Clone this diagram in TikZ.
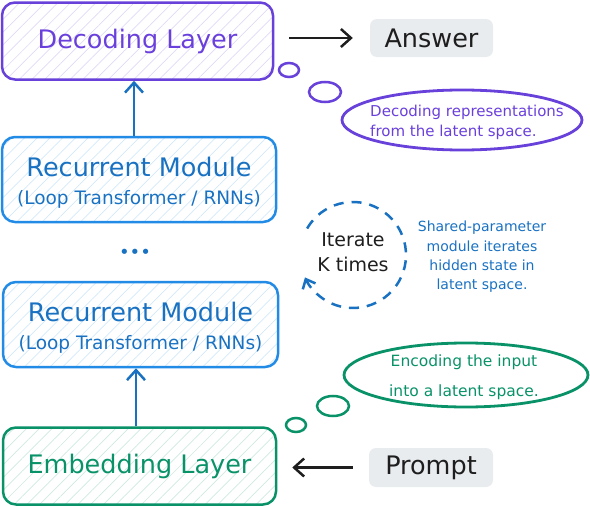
\documentclass[tikz,border=0pt]{standalone}
\usepackage{fontspec}
\setmainfont{DejaVu Sans}
\usetikzlibrary{arrows.meta,shapes.geometric,patterns.meta}

\definecolor{cviolet}{HTML}{6741D9}
\definecolor{cvtext}{HTML}{6A40DC}
\definecolor{cblue}{HTML}{1971C2}
\definecolor{cbluebox}{HTML}{228BE6}
\definecolor{cgreen}{HTML}{099268}
\definecolor{cblack}{HTML}{1E1E1E}
\definecolor{cgray}{HTML}{E9ECEF}

\tikzset{
  layerbox/.style={draw=#1, line width=2.5pt, rounded corners=13pt, inner sep=0pt, align=center,
    preaction={pattern={Lines[angle=45,distance=9pt,line width=0.7pt]}, pattern color=#1!20}},
  bigfont/.style={font=\fontsize{25.5}{28}\selectfont},
  tagbox/.style={fill=cgray, rounded corners=7pt, inner sep=0pt, text=cblack, bigfont},
  flow/.style={line width=2.5pt, -{Straight Barb[length=10pt,width=18pt]}},
  bubble/.style={draw=#1, ellipse, line width=2.5pt, inner sep=0pt},
  note/.style={font=\fontsize{15}{20}\selectfont, inner sep=0pt},
}

\begin{document}
\begin{tikzpicture}[x=1pt,y=-1pt]
\path[use as bounding box] (0,0) rectangle (590,506);

% main column
\node[layerbox=cviolet, text=cvtext, bigfont, minimum width=271pt, minimum height=77pt] (dec) at (137.5,41) {Decoding Layer};
\node[layerbox=cbluebox, text=cblue, bigfont, minimum width=274pt, minimum height=85pt] (rm1) at (139,179.5)
  {\rule{0pt}{26pt}Recurrent Module\\{\fontsize{18.5}{22}\selectfont (Loop Transformer / RNNs)}};
\node[text=cblue, font=\fontsize{18}{20}\selectfont, inner sep=0pt] (dots) at (135,254) {•••};
\node[layerbox=cbluebox, text=cblue, bigfont, minimum width=275pt, minimum height=85pt] (rm2) at (140.5,324.5)
  {\rule{0pt}{26pt}Recurrent Module\\{\fontsize{18.5}{22}\selectfont (Loop Transformer / RNNs)}};
\node[layerbox=cgreen, text=cgreen, bigfont, minimum width=273pt, minimum height=77pt] (emb) at (139.5,466) {Embedding Layer};

\draw[flow, cblue] (rm1.north -| 134,0) -- (dec.south -| 134,0);
\draw[flow, cblue] (emb.north -| 136,0) -- (rm2.south -| 136,0);

% answer / prompt
\node[tagbox, minimum width=123pt, minimum height=38pt] (ans) at (431.5,38) {Answer};
\node[tagbox, minimum width=124pt, minimum height=39pt] (prm) at (431,467.5) {Prompt};
\draw[flow, cblack, shorten <=15pt, shorten >=17pt] (dec.east |- ans.west) -- (ans.west);
\draw[flow, cblack, shorten <=16pt, shorten >=15pt] (prm.west) -- (emb.east |- prm.west);

% decoding thought bubble
\node[bubble=cviolet, minimum width=20pt, minimum height=14pt] (db1) at (289,70) {};
\node[bubble=cviolet, minimum width=32pt, minimum height=20pt] (db2) at (325,92) {};
\node[bubble=cviolet, line width=2.8pt, minimum width=240pt, minimum height=60pt] (dell) at (462,120) {};
\node[note, text=cvtext, align=left] (dtxt) at (467,122) {Decoding representations\\from the latent space.};

% encoding thought bubble
\node[bubble=cgreen, minimum width=20pt, minimum height=14pt] (eb1) at (296,425) {};
\node[bubble=cgreen, minimum width=32pt, minimum height=20pt] (eb2) at (333,406) {};
\node[bubble=cgreen, line width=2.8pt, minimum width=244pt, minimum height=64pt] (eell) at (466,375) {};
\node[note, text=cgreen, align=center, font=\fontsize{15.5}{30}\selectfont] (etxt) at (464,377) {Encoding the input\\into a latent space.};

% iterate loop
\coordinate (loopc) at (353,255);
\draw[cblue, line width=2.5pt, dash pattern=on 10pt off 8pt, -{Straight Barb[length=8pt,width=14pt]}]
  ([shift={(-150:53)}]loopc) arc[start angle=-150, end angle=155, radius=53];
\node[text=cblack, align=center, font=\fontsize{19}{25}\selectfont, inner sep=0pt] (iter) at (353,252) {Iterate\\K times};
\node[text=cblue, align=center, font=\fontsize{14}{19.3}\selectfont, inner sep=0pt] (itxt) at (482,257)
  {Shared-parameter\\module iterates\\hidden state in\\latent space.};
\end{tikzpicture}
\end{document}
